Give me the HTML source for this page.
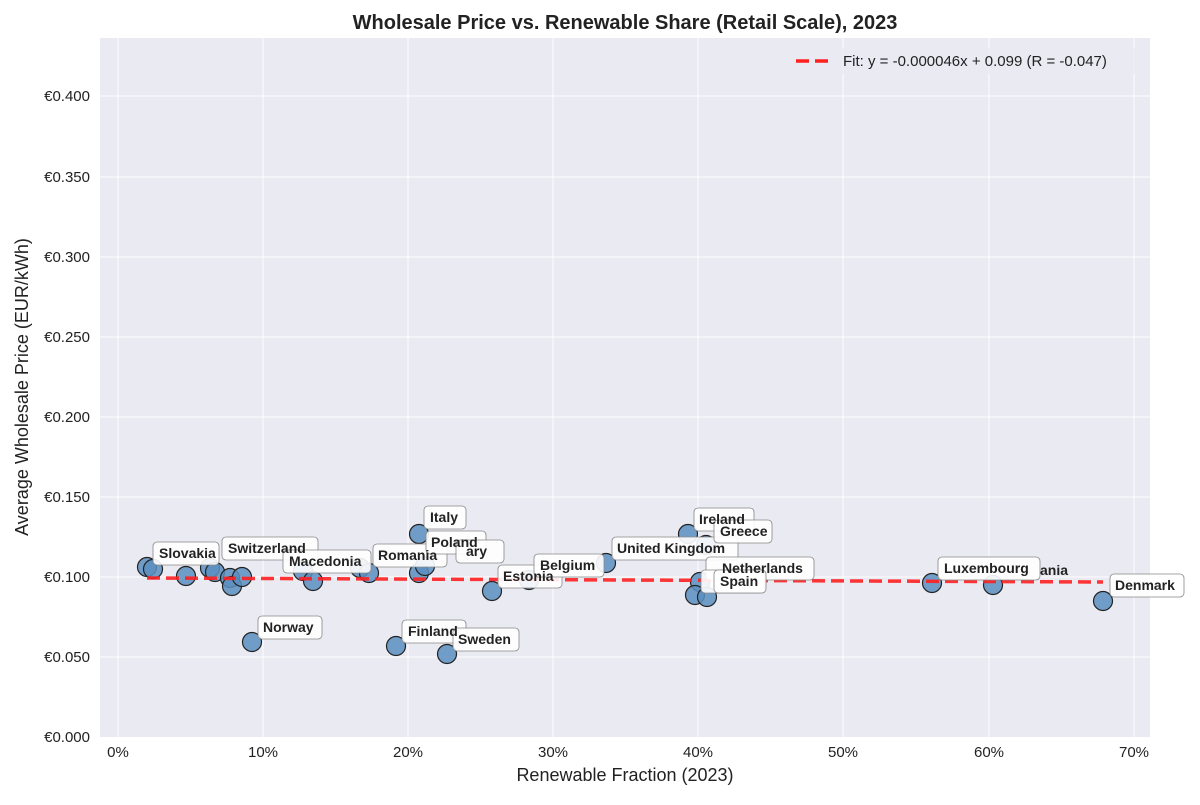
<!DOCTYPE html><html><head><style>body{margin:0;background:#fff}text{font-family:"Liberation Sans","DejaVu Sans",sans-serif}</style></head><body>
<svg width="1200" height="800" xmlns="http://www.w3.org/2000/svg">
<rect x="100" y="38" width="1050" height="699" fill="#eaeaf2"/>
<g stroke="#fff" stroke-width="1">
<line x1="118" y1="38" x2="118" y2="737"/><line x1="263" y1="38" x2="263" y2="737"/><line x1="408" y1="38" x2="408" y2="737"/><line x1="553" y1="38" x2="553" y2="737"/><line x1="698" y1="38" x2="698" y2="737"/><line x1="843" y1="38" x2="843" y2="737"/><line x1="989" y1="38" x2="989" y2="737"/><line x1="1134" y1="38" x2="1134" y2="737"/>
<line x1="100" y1="657" x2="1150" y2="657"/><line x1="100" y1="577" x2="1150" y2="577"/><line x1="100" y1="497" x2="1150" y2="497"/><line x1="100" y1="417" x2="1150" y2="417"/><line x1="100" y1="337" x2="1150" y2="337"/><line x1="100" y1="257" x2="1150" y2="257"/><line x1="100" y1="177" x2="1150" y2="177"/><line x1="100" y1="96" x2="1150" y2="96"/>
</g>
<g font-size="15" fill="#222" text-anchor="middle">
<text x="118" y="757">0%</text><text x="263" y="757">10%</text><text x="408" y="757">20%</text><text x="553" y="757">30%</text><text x="698" y="757">40%</text><text x="843" y="757">50%</text><text x="989" y="757">60%</text><text x="1134" y="757">70%</text>
</g>
<g font-size="15" fill="#222" text-anchor="end">
<text x="90" y="742">€0.000</text><text x="90" y="662">€0.050</text><text x="90" y="582">€0.100</text><text x="90" y="502">€0.150</text><text x="90" y="422">€0.200</text><text x="90" y="342">€0.250</text><text x="90" y="262">€0.300</text><text x="90" y="182">€0.350</text><text x="90" y="101">€0.400</text>
</g>
<text x="625" y="781" font-size="18" text-anchor="middle" fill="#222">Renewable Fraction (2023)</text>
<text transform="translate(28,387) rotate(-90)" font-size="18" text-anchor="middle" fill="#222">Average Wholesale Price (EUR/kWh)</text>
<text x="625" y="29" font-size="20" font-weight="bold" text-anchor="middle" fill="#222">Wholesale Price vs. Renewable Share (Retail Scale), 2023</text>
<g fill="#5b8fc0" fill-opacity="0.85" stroke="#222" stroke-width="1.2">
<circle cx="147" cy="567" r="9.5"/><circle cx="153" cy="569" r="9.5"/><circle cx="186" cy="576" r="9.5"/><circle cx="210" cy="568" r="9.5"/><circle cx="215" cy="572" r="9.5"/><circle cx="230" cy="578" r="9.5"/><circle cx="232" cy="586" r="9.5"/><circle cx="242" cy="577" r="9.5"/><circle cx="303" cy="571" r="9.5"/><circle cx="313" cy="581" r="9.5"/><circle cx="360" cy="568" r="9.5"/><circle cx="369" cy="573" r="9.5"/><circle cx="419" cy="573" r="9.5"/><circle cx="425" cy="566" r="9.5"/><circle cx="419" cy="534" r="9.5"/><circle cx="492" cy="591" r="9.5"/><circle cx="529" cy="580" r="9.5"/><circle cx="606" cy="563" r="9.5"/><circle cx="688" cy="534" r="9.5"/><circle cx="706" cy="545" r="9.5"/><circle cx="700" cy="582" r="9.5"/><circle cx="695" cy="595" r="9.5"/><circle cx="707" cy="597" r="9.5"/><circle cx="932" cy="583" r="9.5"/><circle cx="993" cy="585" r="9.5"/><circle cx="1103" cy="601" r="9.5"/><circle cx="252" cy="642" r="9.5"/><circle cx="396" cy="646" r="9.5"/><circle cx="447" cy="654" r="9.5"/>
</g>
<line x1="147" y1="578" x2="1103" y2="582" stroke="#ff2020" stroke-opacity="0.9" stroke-width="3.5" stroke-dasharray="13,6"/>
<g font-size="14" font-weight="bold" fill="#222">
<g stroke="#888" stroke-width="0.8" fill="#fff" fill-opacity="0.9">
<rect x="153" y="542" width="66" height="23" rx="4"/><rect x="222" y="537" width="96" height="23" rx="4"/><rect x="283" y="550" width="88" height="23" rx="4"/><rect x="373" y="544" width="74" height="23" rx="4"/><rect x="424" y="506" width="42" height="23" rx="4"/><rect x="426" y="531" width="60" height="23" rx="4"/><rect x="456" y="540" width="48" height="23" rx="4"/><rect x="498" y="565" width="64" height="23" rx="4"/><rect x="534" y="554" width="70" height="23" rx="4"/><rect x="612" y="537" width="126" height="23" rx="4"/><rect x="694" y="508" width="60" height="23" rx="4"/><rect x="714" y="520" width="58" height="23" rx="4"/><rect x="706" y="557" width="108" height="23" rx="4"/><rect x="701" y="570" width="64" height="23" rx="4"/><rect x="714" y="570" width="52" height="23" rx="4"/><rect x="938" y="557" width="102" height="23" rx="4"/><rect x="1110" y="574" width="74" height="23" rx="4"/><rect x="258" y="616" width="64" height="23" rx="4"/><rect x="402" y="620" width="64" height="23" rx="4"/><rect x="453" y="628" width="66" height="23" rx="4"/>
</g>
<text x="159" y="558">Slovakia</text><text x="228" y="553">Switzerland</text><text x="289" y="566">Macedonia</text><text x="378" y="560">Romania</text><text x="430" y="522">Italy</text><text x="431" y="547">Poland</text><text x="466" y="556">ary</text><text x="503" y="581">Estonia</text><text x="540" y="570">Belgium</text><text x="617" y="553">United Kingdom</text><text x="699" y="524">Ireland</text><text x="720" y="536">Greece</text><text x="722" y="573">Netherlands</text><text x="1040" y="575">ania</text><text x="720" y="586">Spain</text><text x="944" y="573">Luxembourg</text><text x="1115" y="590">Denmark</text><text x="263" y="632">Norway</text><text x="408" y="636">Finland</text><text x="458" y="644">Sweden</text>
</g>
<rect x="786" y="48" width="356" height="26" fill="#eaeaf2" opacity="0.8"/>
<line x1="796" y1="61" x2="832" y2="61" stroke="#ff2020" stroke-width="3.5" stroke-dasharray="13,6"/>
<text x="843" y="66" font-size="15" fill="#222">Fit: y = -0.000046x + 0.099 (R = -0.047)</text>
</svg></body></html>
